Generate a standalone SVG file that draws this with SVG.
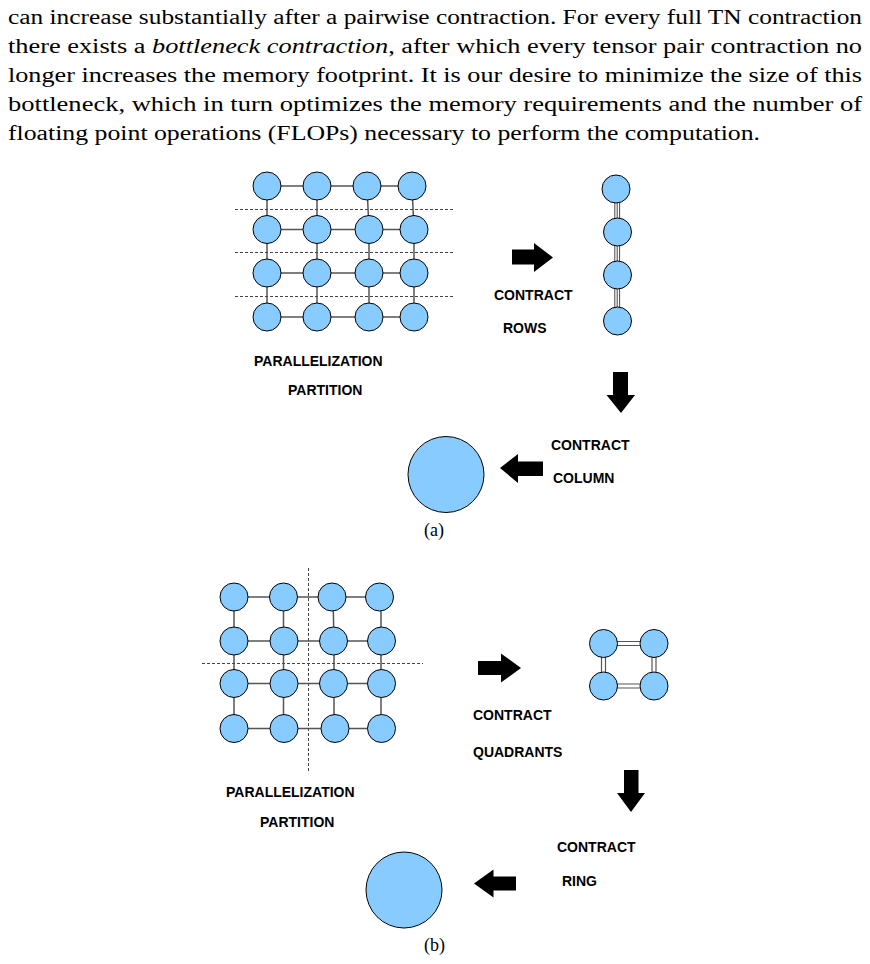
<svg xmlns="http://www.w3.org/2000/svg" width="870" height="964" viewBox="0 0 870 964">
<style>
.body{font-family:"Liberation Serif","DejaVu Serif",serif;font-size:20.5px;fill:#000}
.lbl{font-family:"Liberation Sans",Arial,sans-serif;font-size:14px;font-weight:bold;fill:#000}
.cap{font-family:"Liberation Serif","DejaVu Serif",serif;font-size:18px;fill:#000;text-anchor:middle}
.node{fill:#88CCFF;stroke:#000;stroke-width:1}
.edge{stroke:#555;stroke-width:1.5;fill:none}
.dash{stroke:#444;stroke-width:1;stroke-dasharray:3 2;fill:none}
.triple{stroke:#333;stroke-width:0.9;fill:none}
.dbl{stroke:#555;stroke-width:1.2;fill:none}
.arrow{fill:#000}
</style>
<rect width="870" height="964" fill="#fff"/>
<g id="paragraph">
<text class="body" x="8" y="23.5" textLength="854" lengthAdjust="spacingAndGlyphs">can increase substantially after a pairwise contraction. For every full TN contraction</text>
<text class="body" x="8" y="52.5" textLength="854" lengthAdjust="spacingAndGlyphs">there exists a <tspan font-style="italic">bottleneck contraction</tspan>, after which every tensor pair contraction no</text>
<text class="body" x="8" y="81.5" textLength="854" lengthAdjust="spacingAndGlyphs">longer increases the memory footprint. It is our desire to minimize the size of this</text>
<text class="body" x="8" y="110.8" textLength="854" lengthAdjust="spacingAndGlyphs">bottleneck, which in turn optimizes the memory requirements and the number of</text>
<text class="body" x="8" y="140" textLength="752" lengthAdjust="spacingAndGlyphs">floating point operations (FLOPs) necessary to perform the computation.</text>
</g>
<g id="connectors">
<path class="edge" d="M267 186H412M267 229.5H414M267 273H414M267 317H414"/>
<path class="edge" d="M267 186V317M317 186V317M367 186L369 229.5V317M412 186L414 229.5V317"/>
<path class="dash" d="M235 209.5H455M235 252.5H455M235 296.5H455"/>
<path class="triple" d="M614.8 200V220M617.2 200V220M619.6 200V220M614.8 244V262M617.2 244V262M619.6 244V262M614.8 288V308M617.2 288V308M619.6 288V308"/>
<path class="edge" d="M234 597H381M234 641H381M234 683.5H381M234 728.5H381"/>
<path class="edge" d="M234 597V728.5M283.5 597V728.5M333 597L334 641V728.5M381 597V728.5"/>
<path class="dash" d="M202 663.5H423M308.5 568V772"/>
<path class="dbl" d="M603 641.5H654M603 645.5H654M603 684H654M603 688H654M601.5 643V686M605.5 643V686M652 643V686M656 643V686"/>
<polygon class="arrow" points="512,249.5 534,249.5 534,243 553,257.5 534,272 534,264.5 512,264.5"/>
<polygon class="arrow" points="613,372 628,372 628,395 635,395 621,413 606.5,395 613,395"/>
<polygon class="arrow" points="543,461.5 518,461.5 518,454 500,468 518,483 518,476 543,476"/>
<polygon class="arrow" points="478,661 501,661 501,653.5 521,668 501,682.5 501,675 478,675"/>
<polygon class="arrow" points="624,770 638.5,770 638.5,793 645,793 631,812 617,793 624,793"/>
<polygon class="arrow" points="516,876.5 493.5,876.5 493.5,869.5 474,883.5 493.5,897.5 493.5,890.5 516,890.5"/>
</g>
<g id="grid-a">
<circle class="node" cx="267" cy="186" r="14"/><circle class="node" cx="317" cy="186" r="14"/><circle class="node" cx="367" cy="186" r="14"/><circle class="node" cx="412" cy="186" r="14"/>
<circle class="node" cx="267" cy="229.5" r="14"/><circle class="node" cx="317" cy="229.5" r="14"/><circle class="node" cx="369" cy="229.5" r="14"/><circle class="node" cx="414" cy="229.5" r="14"/>
<circle class="node" cx="267" cy="273" r="14"/><circle class="node" cx="317" cy="273" r="14"/><circle class="node" cx="369" cy="273" r="14"/><circle class="node" cx="414" cy="273" r="14"/>
<circle class="node" cx="267" cy="317" r="14"/><circle class="node" cx="317" cy="317" r="14"/><circle class="node" cx="369" cy="317" r="14"/><circle class="node" cx="414" cy="317" r="14"/>
</g>
<g id="chain-a">
<circle class="node" cx="616" cy="189" r="14"/><circle class="node" cx="617.5" cy="232" r="14"/><circle class="node" cx="617.5" cy="275" r="14"/><circle class="node" cx="617.5" cy="321" r="14"/>
</g>
<g id="result-a"><circle class="node" cx="446" cy="474.5" r="38"/></g>
<g id="labels-a">
<text class="lbl" x="494" y="300">CONTRACT</text>
<text class="lbl" x="503" y="333">ROWS</text>
<text class="lbl" x="254" y="366">PARALLELIZATION</text>
<text class="lbl" x="288" y="395">PARTITION</text>
<text class="lbl" x="551" y="450">CONTRACT</text>
<text class="lbl" x="553" y="483">COLUMN</text>
<text class="cap" x="434" y="536">(a)</text>
</g>
<g id="grid-b">
<circle class="node" cx="234" cy="597" r="14"/><circle class="node" cx="283.5" cy="597" r="14"/><circle class="node" cx="332" cy="597" r="14"/><circle class="node" cx="379.5" cy="597" r="14"/>
<circle class="node" cx="234" cy="641" r="14"/><circle class="node" cx="284" cy="641" r="14"/><circle class="node" cx="333.5" cy="641" r="14"/><circle class="node" cx="381.5" cy="641" r="14"/>
<circle class="node" cx="234" cy="683.5" r="14"/><circle class="node" cx="284" cy="683.5" r="14"/><circle class="node" cx="333.5" cy="683.5" r="14"/><circle class="node" cx="381.5" cy="683.5" r="14"/>
<circle class="node" cx="234" cy="728.5" r="14"/><circle class="node" cx="284" cy="728.5" r="14"/><circle class="node" cx="335" cy="728.5" r="14"/><circle class="node" cx="381.5" cy="728.5" r="14"/>
</g>
<g id="ring-b">
<circle class="node" cx="603.5" cy="643.5" r="14"/><circle class="node" cx="654" cy="643.5" r="14"/><circle class="node" cx="603.5" cy="686" r="14"/><circle class="node" cx="654" cy="686" r="14"/>
</g>
<g id="result-b"><circle class="node" cx="404" cy="890" r="38"/></g>
<g id="labels-b">
<text class="lbl" x="473" y="720">CONTRACT</text>
<text class="lbl" x="473" y="757">QUADRANTS</text>
<text class="lbl" x="226" y="797">PARALLELIZATION</text>
<text class="lbl" x="260" y="827">PARTITION</text>
<text class="lbl" x="557" y="852">CONTRACT</text>
<text class="lbl" x="562" y="886">RING</text>
<text class="cap" x="434.5" y="951">(b)</text>
</g>
</svg>
